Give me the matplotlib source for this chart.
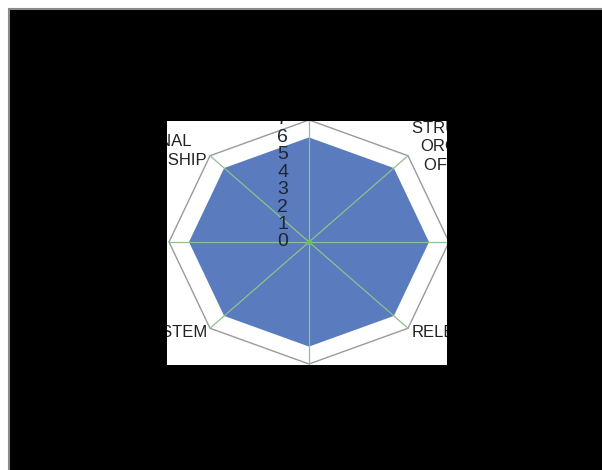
import numpy as np
import matplotlib
matplotlib.use('Agg')
import matplotlib.pyplot as plt
from matplotlib.patches import Rectangle
from matplotlib.lines import Line2D

categories = ['WORK CLIMATE', 'STRUCTURE AND\nORGANIZATION\nOF THE WORK', 'COMMUNICATION',
              'RELEVANCE', 'LEADERSHIP', 'REWARD SYSTEM', 'MOTIVATION',
              'PERSONAL\nRELATIONSHIP']
values = [6, 6, 6, 6, 6, 6, 6, 6]
r_max = 7
ticks = [0, 1, 2, 3, 4, 5, 6, 7]

W, H = 602, 470
fig = plt.figure(figsize=(W / 100, H / 100), dpi=100)
fig.patch.set_facecolor('white')

# black frame behind the chart, grey rule on top and left
bg = Rectangle((9 / W, 0), 1 - 9 / W, (H - 9) / H, transform=fig.transFigure,
               facecolor='black', edgecolor='none', zorder=-10)
fig.patches.append(bg)
fig.lines.append(Line2D([8.5 / W, 1], [1 - 8.5 / H, 1 - 8.5 / H], transform=fig.transFigure,
                        color='#8a8a8a', linewidth=1.5, zorder=-9))
fig.lines.append(Line2D([8.5 / W, 8.5 / W], [0, 1 - 8.5 / H], transform=fig.transFigure,
                        color='#8a8a8a', linewidth=1.5, zorder=-9))

# chart panel in pixel coords
x0, y0, x1, y1 = 167, 121, 447, 365
ax = fig.add_axes([x0 / W, 1 - y1 / H, (x1 - x0) / W, (y1 - y0) / H])
ax.set_zorder(5)
cx, cy = 309, 242
sx = 140 / r_max
sy = 122 / r_max
ax.set_xlim(-(cx - x0) / sx, (x1 - cx) / sx)
ax.set_ylim(-(y1 - cy) / sy, (cy - y0) / sy)
ax.axis('off')
ax.add_patch(Rectangle((0, 0), 1, 1, transform=ax.transAxes, facecolor='white', zorder=0))

n = len(categories)
theta = np.pi / 2 - np.arange(n) * 2 * np.pi / n
ux, uy = np.cos(theta), np.sin(theta)

vals = np.array(values, dtype=float)
ax.fill(np.append(vals * ux, vals[0] * ux[0]), np.append(vals * uy, vals[0] * uy[0]),
        color='#5a7bbd', zorder=2, linewidth=0)

# outer ring
ax.plot(np.append(r_max * ux, r_max * ux[0]), np.append(r_max * uy, r_max * uy[0]),
        color='#9a9a9a', linewidth=1, zorder=3)
# spokes
for a, b in zip(ux, uy):
    ax.plot([0, r_max * a], [0, r_max * b], color='#8cc28c', linewidth=0.9, zorder=3)
ax.plot([0], [0], 'o', color='#6cbf6c', markersize=3, zorder=4)

# radial tick labels
for t in ticks:
    ax.text(-21 / sx, t, str(t), ha='right', va='center', fontsize=14,
            family=['Liberation Sans Narrow', 'Liberation Sans'], color='#1f2638',
            zorder=5, clip_on=True)

# category labels (only the parts inside the panel show, like the reference)
offsets = {0: (0, 6, 'center', 'bottom'), 1: (4, 9, 'left', 'center'),
           2: (6, 0, 'left', 'center'), 3: (4, -4, 'left', 'center'),
           4: (0, -6, 'center', 'top'), 5: (-3, -4, 'right', 'center'),
           6: (-6, 0, 'right', 'center'), 7: (-3, 5, 'right', 'center')}
for i, lab in enumerate(categories):
    dx, dy, ha, va = offsets[i]
    ax.annotate(lab, (r_max * ux[i], r_max * uy[i]), xytext=(dx * 0.72, dy * 0.72),
                textcoords='offset points', ha=ha, va=va, multialignment='center',
                fontsize=12, family=['Liberation Sans', 'DejaVu Sans'], color='#222222',
                linespacing=1.3, annotation_clip=False, clip_on=True, zorder=5)

fig.savefig('out.png', dpi=100, facecolor=fig.get_facecolor())
